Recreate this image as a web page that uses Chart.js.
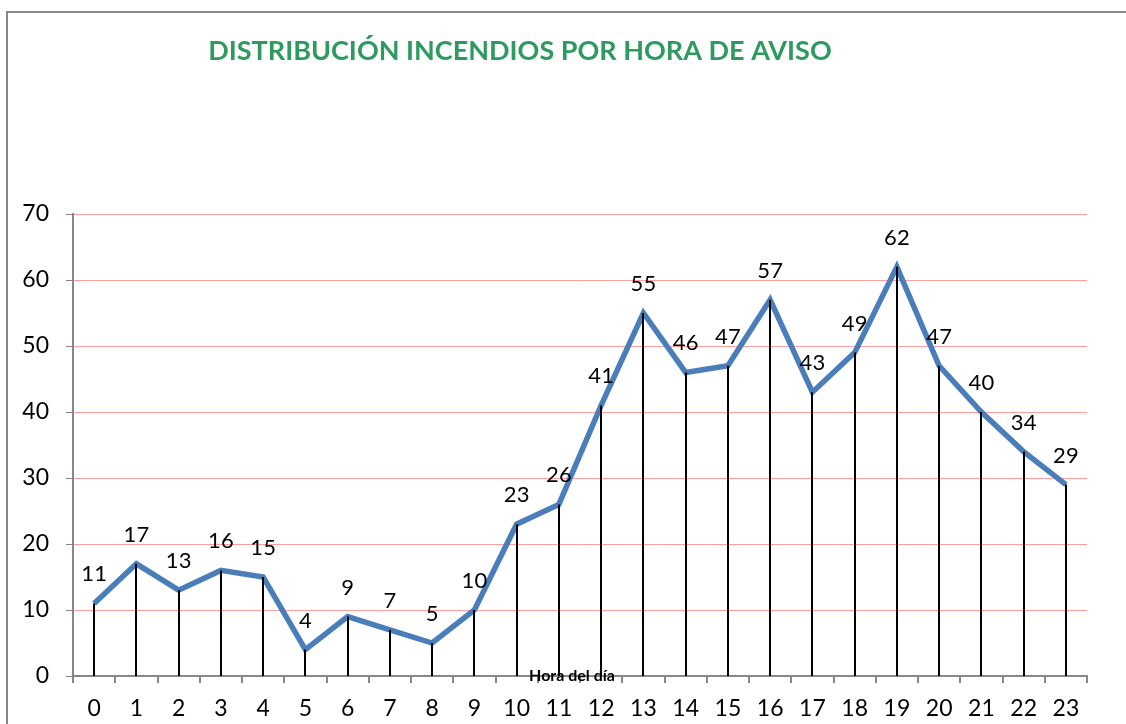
<!DOCTYPE html>
<html lang="es">
<head>
  <meta charset="UTF-8" />
  <title>Distribución incendios por hora de aviso</title>
  <script src="https://cdn.jsdelivr.net/npm/chart.js"></script>
  <style>
    html, body { margin: 0; padding: 0; background: #fff; overflow: hidden; }
    #marco {
      position: absolute; left: 6px; top: 11px;
      width: 1200px; height: 800px;
      border: 2px solid #878787; box-sizing: border-box;
    }
    canvas { position: absolute; left: 0; top: 0; }
  </style>
</head>
<body>
  <div id="marco"></div>
  <canvas id="grafico" width="1126" height="724"></canvas>

  <script>
    const horas = ["0","1","2","3","4","5","6","7","8","9","10","11","12","13","14","15","16","17","18","19","20","21","22","23"];
    const incendios = [11, 17, 13, 16, 15, 4, 9, 7, 5, 10, 23, 26, 41, 55, 46, 47, 57, 43, 49, 62, 47, 40, 34, 29];
    const ticksY = [0, 10, 20, 30, 40, 50, 60, 70];

    const titulo = "DISTRIBUCIÓN INCENDIOS POR HORA DE AVISO";
    const tituloEje = "Hora del día";
    const fuente = "Lato, 'Open Sans', sans-serif";

    // lineas verticales, etiquetas y textos fijos
    const extras = {
      id: 'extras',
      afterDatasetsDraw(chart) {
        const ctx = chart.ctx;
        const x = chart.scales.x, y = chart.scales.y;
        ctx.save();
        ctx.strokeStyle = '#000';
        ctx.lineWidth = 2;
        incendios.forEach((v, i) => {
          const px = Math.round(x.getPixelForValue(i));
          ctx.beginPath();
          ctx.moveTo(px, y.getPixelForValue(v));
          ctx.lineTo(px, y.getPixelForValue(0));
          ctx.stroke();
        });
        ctx.fillStyle = '#000';
        ctx.font = "22px " + fuente;
        ctx.textAlign = 'center';
        ctx.textBaseline = 'middle';
        incendios.forEach((v, i) => {
          ctx.fillText(String(v), x.getPixelForValue(i), y.getPixelForValue(v) - 29);
        });
        ctx.font = "bold 16px " + fuente;
        ctx.fillText(tituloEje, 572, 676);
        ctx.fillStyle = '#2F9A5F';
        ctx.font = "bold 27px " + fuente;
        ctx.fillText(titulo, 520, 51);
        ctx.restore();
      }
    };

    new Chart(document.getElementById("grafico").getContext("2d"), {
      type: 'line',
      data: {
        labels: horas,
        datasets: [{
          data: incendios,
          borderColor: '#4A7EBB',
          borderWidth: 5.5,
          pointRadius: 0,
          tension: 0,
          fill: false
        }]
      },
      options: {
        responsive: false,
        animation: false,
        layout: { padding: { top: 214, right: 39, left: 0, bottom: 0 } },
        plugins: { legend: { display: false }, tooltip: { enabled: false } },
        scales: {
          x: {
            offset: true,
            grid: { offset: true, drawOnChartArea: false, tickLength: 7, tickColor: '#878787', lineWidth: 2 },
            border: { color: '#878787', width: 2 },
            ticks: { color: '#000', font: { size: 23, family: fuente }, padding: 12, maxRotation: 0, autoSkip: false },
            afterFit(s) { s.height = 48; }
          },
          y: {
            min: 0, max: 70,
            afterBuildTicks(s) { s.ticks = ticksY.map(v => ({ value: v })); },
            grid: {
              color: c => c.tick && c.tick.value === 0 ? 'rgba(0,0,0,0)' : '#FF9E9E',
              tickColor: '#878787',
              tickLength: 7,
              lineWidth: 1
            },
            border: { color: '#878787', width: 2 },
            ticks: { color: '#000', font: { size: 23, family: fuente }, padding: 17 },
            afterFit(s) { s.width = 73; }
          }
        }
      },
      plugins: [extras]
    });
  </script>
</body>
</html>
